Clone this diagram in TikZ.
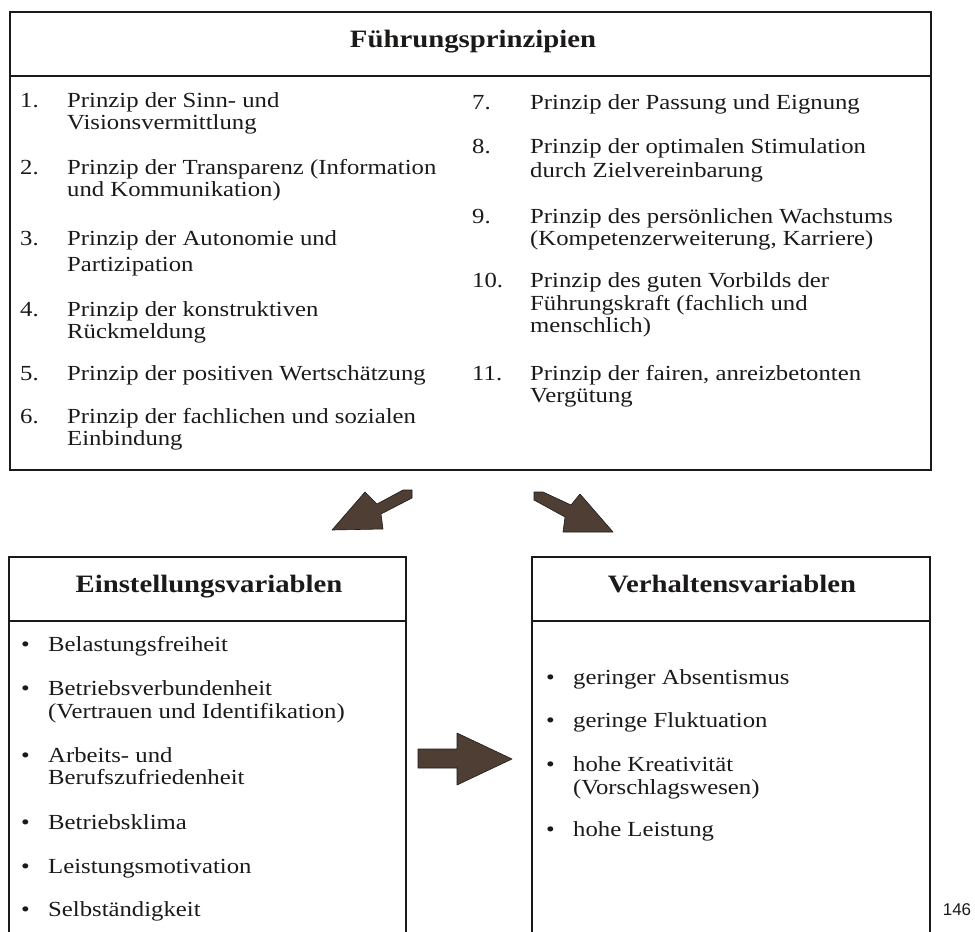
\documentclass[tikz,border=0pt]{standalone}
\usepackage{fontspec}
\setmainfont{Liberation Serif}[FakeStretch=1.15]
\newfontfamily\pagefont{Liberation Sans}
\definecolor{ink}{HTML}{1C1A19}
\definecolor{arrowbrown}{HTML}{4E3E33}
\tikzset{
  frame/.style={draw=ink, line width=1.6pt},
  tx/.style={anchor=mid west, inner sep=0pt, yshift=-5pt, text=ink, font=\fontsize{21.5}{22}\selectfont},
  hd/.style={anchor=mid, inner sep=0pt, text=ink, font=\fontsize{25}{26}\selectfont\bfseries},
  blt/.style={anchor=mid west, inner sep=0pt, yshift=-5pt, text=ink, font=\fontsize{21.5}{22}\selectfont},
  bigarrow/.style={fill=arrowbrown, draw=ink, line width=0.6pt, line join=round},
}
\begin{document}
\begin{tikzpicture}[x=1pt,y=-1pt]
\useasboundingbox (0,0) rectangle (975,932);
% boxes
\draw[frame] (10,12) rectangle (931,470);
\draw[frame] (10,76) -- (931,76);
\draw[frame] (9,557) rectangle (406,940);
\draw[frame] (9,621) -- (406,621);
\draw[frame] (532,557) rectangle (930,940);
\draw[frame] (532,621) -- (930,621);
% headers
\node[hd] (h1) at (473,45) {Führungsprinzipien};
\node[hd] (h2) at (209,590) {Einstellungsvariablen};
\node[hd] (h3) at (732,590) {Verhaltensvariablen};
% left column
\node[tx] (n1) at (20,100) {1.};
\node[tx] (t1a) at (67,100) {Prinzip der Sinn- und};
\node[tx] (t1b) at (67,122) {Visionsvermittlung};
\node[tx] (n2) at (20,167) {2.};
\node[tx] (t2a) at (67,167) {Prinzip der Transparenz (Information};
\node[tx] (t2b) at (67,189) {und Kommunikation)};
\node[tx] (n3) at (20,238) {3.};
\node[tx] (t3a) at (67,238) {Prinzip der Autonomie und};
\node[tx] (t3b) at (67,264) {Partizipation};
\node[tx] (n4) at (20,309) {4.};
\node[tx] (t4a) at (67,309) {Prinzip der konstruktiven};
\node[tx] (t4b) at (67,331) {Rückmeldung};
\node[tx] (n5) at (20,373) {5.};
\node[tx] (t5a) at (67,373) {Prinzip der positiven Wertschätzung};
\node[tx] (n6) at (20,416) {6.};
\node[tx] (t6a) at (67,416) {Prinzip der fachlichen und sozialen};
\node[tx] (t6b) at (67,438) {Einbindung};
% right column
\node[tx] (n7) at (472,102) {7.};
\node[tx] (t7a) at (530,102) {Prinzip der Passung und Eignung};
\node[tx] (n8) at (472,146) {8.};
\node[tx] (t8a) at (530,146) {Prinzip der optimalen Stimulation};
\node[tx] (t8b) at (530,170) {durch Zielvereinbarung};
\node[tx] (n9) at (472,216) {9.};
\node[tx] (t9a) at (530,216) {Prinzip des persönlichen Wachstums};
\node[tx] (t9b) at (530,238) {(Kompetenzerweiterung, Karriere)};
\node[tx] (n10) at (472,280) {10.};
\node[tx] (t10a) at (530,280) {Prinzip des guten Vorbilds der};
\node[tx] (t10b) at (530,303) {Führungskraft (fachlich und};
\node[tx] (t10c) at (530,325) {menschlich)};
\node[tx] (n11) at (472,373) {11.};
\node[tx] (t11a) at (530,373) {Prinzip der fairen, anreizbetonten};
\node[tx] (t11b) at (530,395) {Vergütung};
% bottom-left bullets
\node[blt] (b1) at (21,644) {•};
\node[tx] (e1) at (48,644) {Belastungsfreiheit};
\node[blt] (b2) at (21,688) {•};
\node[tx] (e2a) at (48,688) {Betriebsverbundenheit};
\node[tx] (e2b) at (48,711) {(Vertrauen und Identifikation)};
\node[blt] (b3) at (21,755) {•};
\node[tx] (e3a) at (48,755) {Arbeits- und};
\node[tx] (e3b) at (48,777) {Berufszufriedenheit};
\node[blt] (b4) at (21,822) {•};
\node[tx] (e4) at (48,822) {Betriebsklima};
\node[blt] (b5) at (21,866) {•};
\node[tx] (e5) at (48,866) {Leistungsmotivation};
\node[blt] (b6) at (21,909) {•};
\node[tx] (e6) at (48,909) {Selbständigkeit};
% bottom-right bullets
\node[blt] (c1) at (546,677) {•};
\node[tx] (v1) at (573,677) {geringer Absentismus};
\node[blt] (c2) at (546,720) {•};
\node[tx] (v2) at (573,720) {geringe Fluktuation};
\node[blt] (c3) at (546,764) {•};
\node[tx] (v3a) at (573,764) {hohe Kreativität};
\node[tx] (v3b) at (573,787) {(Vorschlagswesen)};
\node[blt] (c4) at (546,829) {•};
\node[tx] (v4) at (573,829) {hohe Leistung};
% page number
\node[anchor=mid, inner sep=0pt, text=ink, font=\pagefont\fontsize{17}{18}\selectfont] (pg) at (957,913) {146};
% arrows
\fill[bigarrow] (332,530) -- (365,492) -- (377,504) -- (403,490) -- (412,490) -- (412,498) -- (381,514) -- (383,529) -- cycle;
\fill[bigarrow] (534,492) -- (543,492) -- (571,505) -- (580,494) -- (613,532) -- (563,532) -- (565,517) -- (534,500) -- cycle;
\fill[bigarrow] (418,749) -- (457,749) -- (457,733) -- (512,759) -- (457,785) -- (457,768) -- (418,768) -- cycle;
\end{tikzpicture}
\end{document}
